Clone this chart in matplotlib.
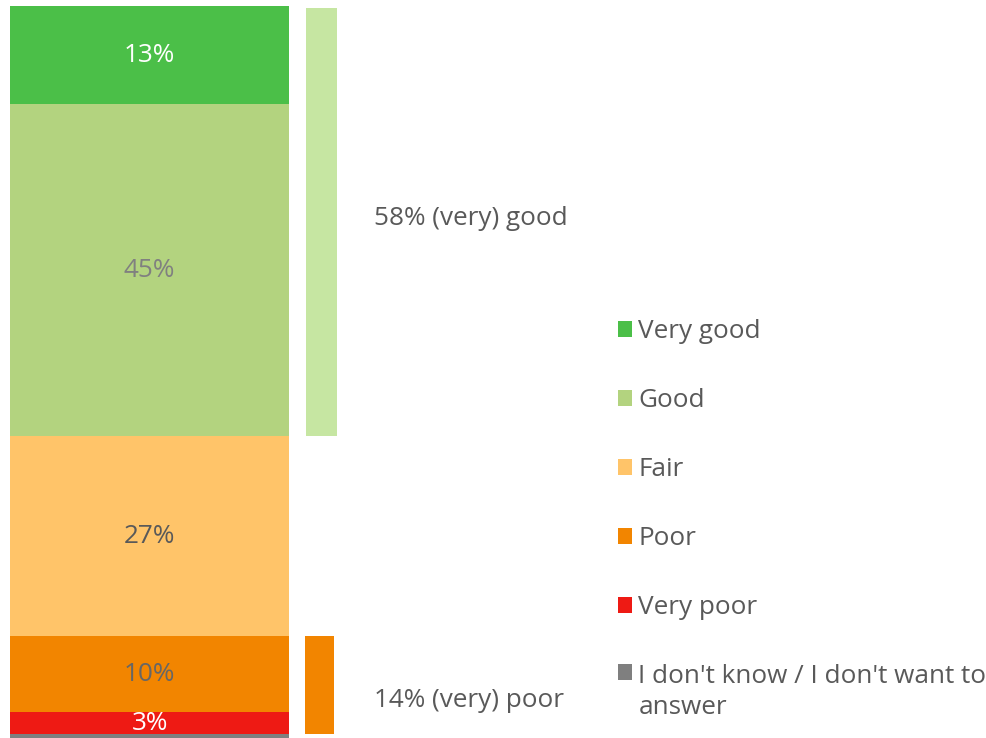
import matplotlib.pyplot as plt
from matplotlib.patches import Patch

plt.rcParams['font.family'] = ['Open Sans', 'DejaVu Sans']

# segments, bottom to top
categories = ["I don't know / I don't want to\nanswer", "Very poor", "Poor", "Fair", "Good", "Very good"]
values = [0.5, 3.0, 10.4, 27.3, 45.4, 13.4]
colors = ["#7f7f7f", "#ee1a14", "#f28500", "#ffc469", "#b3d37f", "#4bbf48"]
label_colors = [None, "white", "#666666", "#595959", "#808080", "white"]

summary_labels = ["14% (very) poor", "58% (very) good"]

fs = 18.8

fig = plt.figure(figsize=(9.86, 7.38), dpi=100)
ax = fig.add_axes([10 / 986, 0, 327 / 986, 732 / 738])
ax.set_xlim(0, 327)
ax.set_ylim(0, sum(values))
ax.axis('off')

bottom = 0
for v, c, lc in zip(values, colors, label_colors):
    ax.bar(0, v, width=279, bottom=bottom, color=c, align='edge')
    if lc is not None:
        ax.text(139.5, bottom + v / 2, f"{v:.0f}%", ha='center', va='center',
                color=lc, fontsize=fs)
    bottom += v

# summary bars on the right
poor_bottom = values[0]
poor_height = values[1] + values[2]
good_bottom = sum(values[:4])
good_height = values[4] + values[5]
ax.bar(295, poor_height, width=29, bottom=poor_bottom, color="#f28500", align='edge')
ax.bar(296, good_height - 0.3, width=31, bottom=good_bottom, color="#c6e6a2", align='edge')

ax.text(364, poor_bottom + poor_height / 2 - 2.1, summary_labels[0], va='center',
        color="#595959", fontsize=fs, clip_on=False)
ax.text(364, good_bottom + good_height / 2 + 0.4, summary_labels[1], va='center',
        color="#595959", fontsize=fs, clip_on=False)

handles = [Patch(facecolor=c, edgecolor='none') for c in colors[::-1]]
leg = fig.legend(handles, categories[::-1], loc='upper left',
                 bbox_to_anchor=(594 / 986, 1 - 296 / 738), frameon=False,
                 fontsize=fs, handlelength=0.55, handleheight=0.55,
                 handletextpad=0.25, labelspacing=1.68, labelcolor="#595959")
leg._legend_box.align = "left"
leg.get_texts()[-1].set_linespacing(1.3)
# square of the wrapped entry sits on its first line
leg._legend_handle_box.get_children()[0].get_children()[-1].align = "top"

fig.savefig("out.png", dpi=100)
